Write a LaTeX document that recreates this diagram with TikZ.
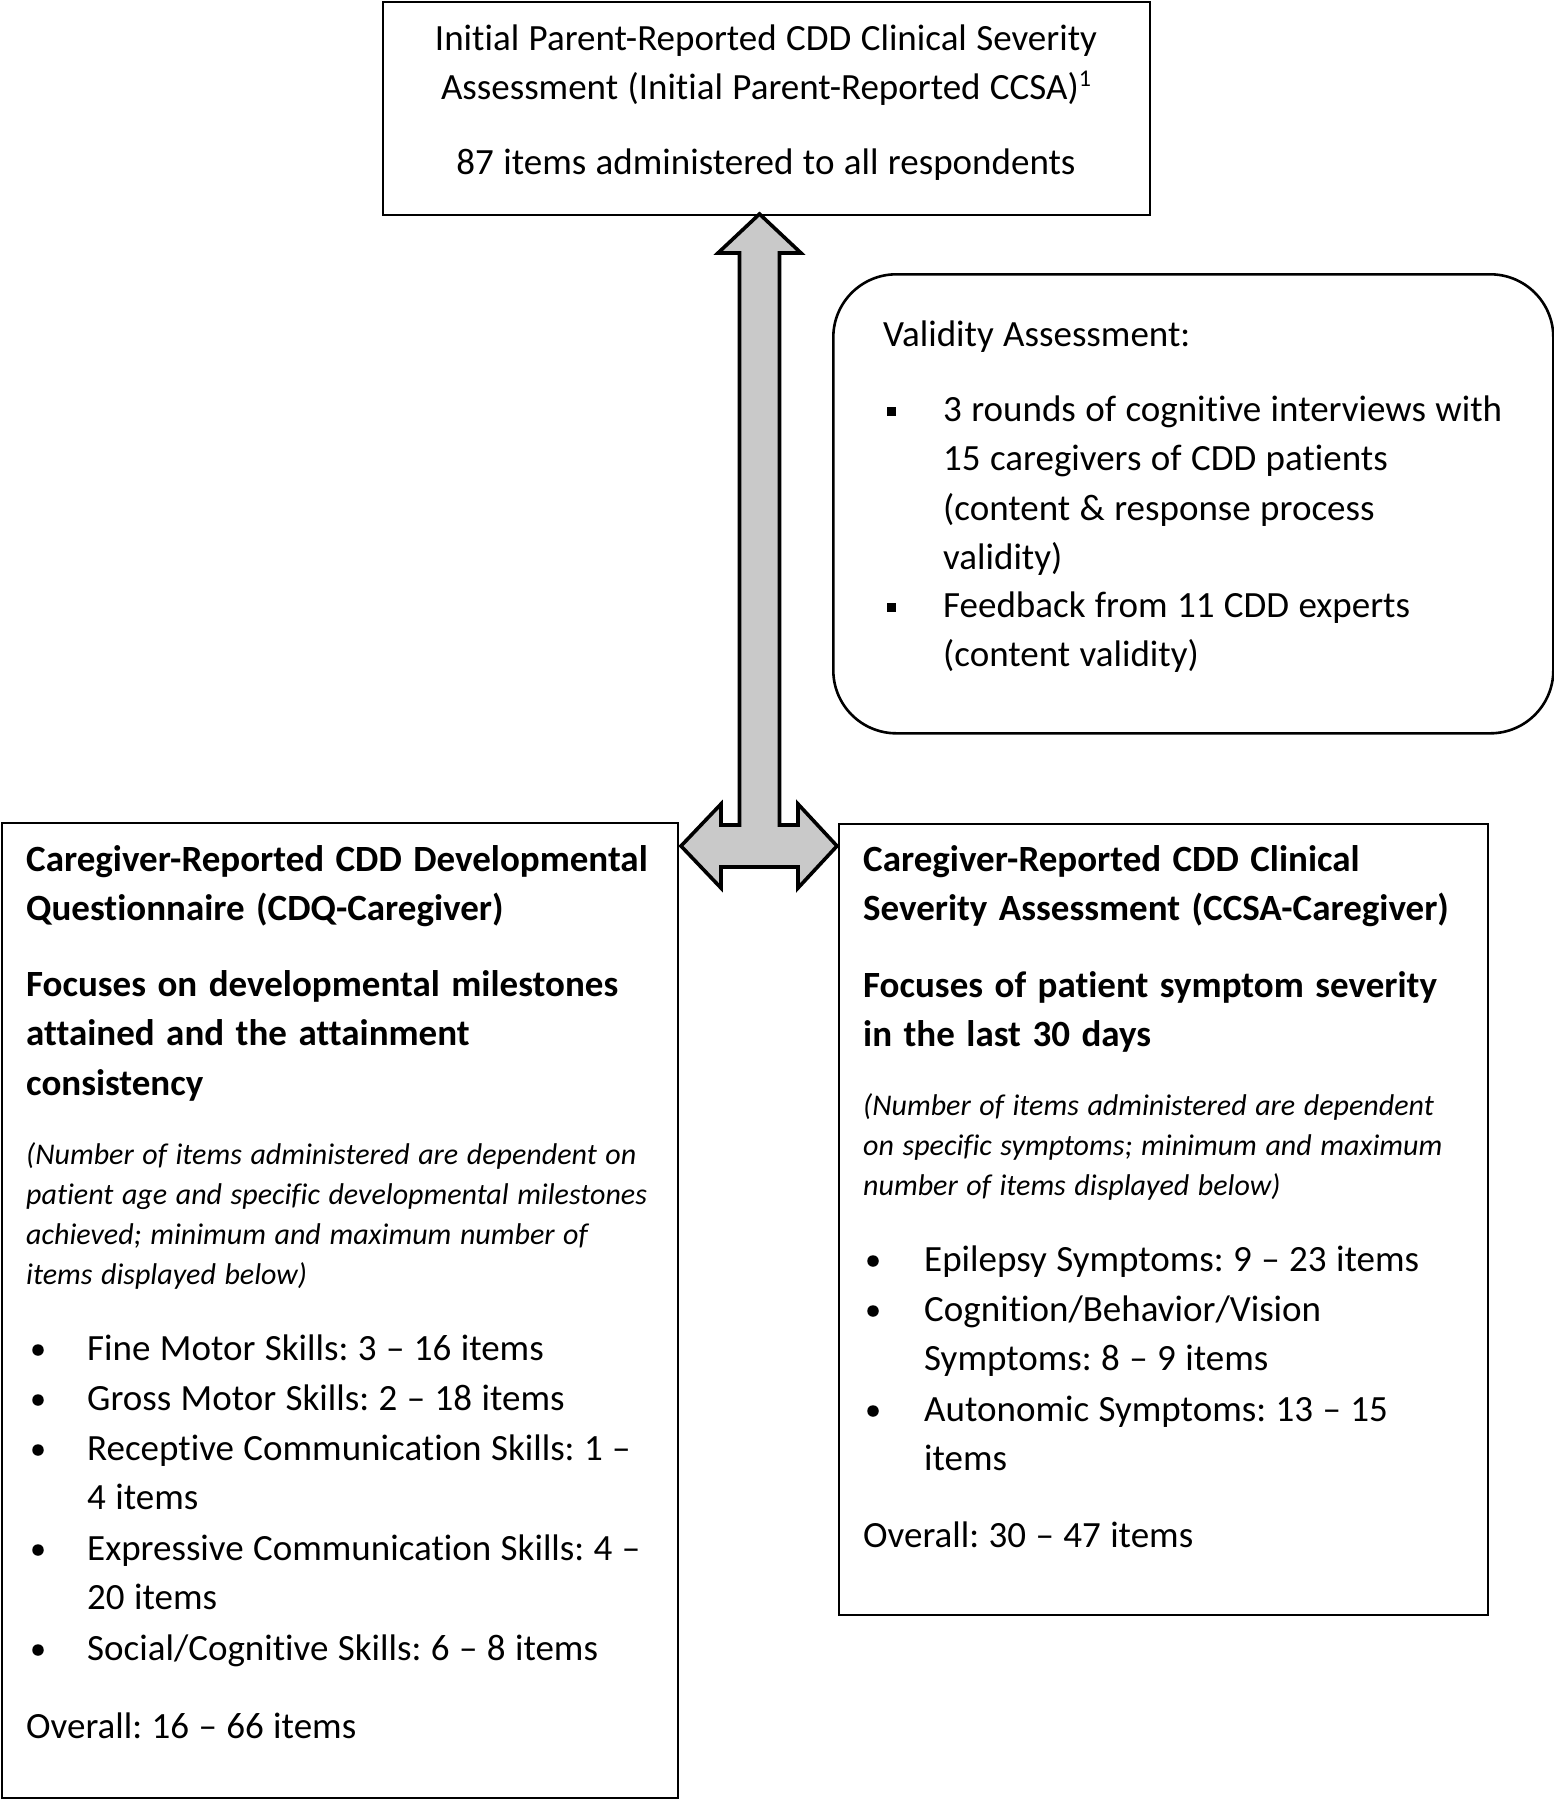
\documentclass[tikz,border=0pt]{standalone}
\usepackage{fontspec}
\setmainfont{Carlito}[Ligatures=NoCommon]
\newcommand\regf{\fontsize{37}{49.5}\selectfont\frenchspacing\spaceskip=9.4pt plus 3pt minus 1pt\relax}
\newcommand\itaf{\fontsize{30}{40.3}\selectfont\itshape\frenchspacing\spaceskip=8.6pt plus 2pt minus 1pt\relax}
\newcommand\bldf{\fontsize{37}{49.5}\selectfont\bfseries\frenchspacing\spaceskip=11.5pt plus 3pt minus 1pt\relax}
\newcommand\supone{\raisebox{13.5pt}{\fontsize{24}{24}\selectfont 1}}
\begin{document}
\begin{tikzpicture}[x=1pt,y=-1pt,
  box/.style={draw=black, line width=1.6pt, anchor=north west, inner sep=0pt},
  txt/.style={anchor=base west, inner sep=0pt, text width=660pt, align=flush left, font=\regf},
  btxt/.style={txt, font=\bldf},
  itxt/.style={txt, font=\itaf},
  ctxt/.style={anchor=base, inner sep=0pt, text width=760pt, align=flush center, font=\regf},
  dot/.style={circle, fill=black, inner sep=0pt, minimum size=11.5pt},
  sq/.style={rectangle, fill=black, inner sep=0pt, minimum size=9pt}]
\useasboundingbox (0,0) rectangle (1554,1800);
\fill[white] (0,0) rectangle (1554,1800);

% boxes
\node[box, minimum width=767pt, minimum height=213pt] (top) at (382,1) {};
\node[box, minimum width=720pt, minimum height=459pt, rounded corners=63pt, line width=2.6pt] (valid) at (832,273) {};
\node[box, minimum width=676pt, minimum height=975pt] (left) at (1,822) {};
\node[box, minimum width=649pt, minimum height=791pt] (right) at (838,823) {};

% double arrow
\coordinate (ac) at (759.5,846);
\draw[line width=3.6pt, fill=black!21, line join=miter]
  (759.5,214) -- (801,253) -- (779.5,253) -- (779.5,825) -- (798,825) -- (798,804)
  -- (837,846) -- (798,888) -- (798,867) -- (721,867) -- (721,888) -- (681,846)
  -- (721,804) -- (721,825) -- (739.5,825) -- (739.5,253) -- (718,253) -- cycle;

% top box text
\node[ctxt] (t1) at (766,50) {Initial Parent-Reported CDD Clinical Severity\\Assessment (Initial Parent-Reported CCSA)\supone};
\node[ctxt] (t2) at (766,174) {87 items administered to all respondents};

% validity box
\node[txt] (v0) at (883,346) {Validity Assessment:};
\node[sq] (vs1) at (891,411) {};
\node[txt] (v1) at (943,421) {3 rounds of cognitive interviews with\\15 caregivers of CDD patients\\(content \& response process\\validity)};
\node[sq] (vs2) at (891,607) {};
\node[txt] (v2) at (943,617) {Feedback from 11 CDD experts\\(content validity)};

% left box
\node[btxt] (l1) at (26,871) {Caregiver-Reported CDD Developmental\\Questionnaire (CDQ-Caregiver)};
\node[btxt] (l2) at (26,996) {Focuses on developmental milestones\\attained and the attainment\\consistency};
\node[itxt] (l3) at (26,1164) {(Number of items administered are dependent on\\patient age and specific developmental milestones\\achieved; minimum and maximum number of\\items displayed below)};
\node[dot] (ld1) at (38,1350) {};
\node[txt] (lb1) at (87,1360) {Fine Motor Skills: 3 – 16 items};
\node[dot] (ld2) at (38,1400) {};
\node[txt] (lb2) at (87,1410) {Gross Motor Skills: 2 – 18 items};
\node[dot] (ld3) at (38,1450) {};
\node[txt] (lb3) at (87,1460) {Receptive Communication Skills: 1 –\\4 items};
\node[dot] (ld4) at (38,1550) {};
\node[txt] (lb4) at (87,1560) {Expressive Communication Skills: 4 –\\20 items};
\node[dot] (ld5) at (38,1650) {};
\node[txt] (lb5) at (87,1660) {Social/Cognitive Skills: 6 – 8 items};
\node[txt] (l4) at (26,1738) {Overall: 16 – 66 items};

% right box
\node[btxt] (r1) at (863,871) {Caregiver-Reported CDD Clinical\\Severity Assessment (CCSA-Caregiver)};
\node[btxt] (r2) at (863,997) {Focuses of patient symptom severity\\in the last 30 days};
\node[itxt] (r3) at (863,1115) {(Number of items administered are dependent\\on specific symptoms; minimum and maximum\\number of items displayed below)};
\node[dot] (rd1) at (873,1261) {};
\node[txt] (rb1) at (924,1271) {Epilepsy Symptoms: 9 – 23 items};
\node[dot] (rd2) at (873,1311) {};
\node[txt] (rb2) at (924,1321) {Cognition/Behavior/Vision\\Symptoms: 8 – 9 items};
\node[dot] (rd3) at (873,1411) {};
\node[txt] (rb3) at (924,1421) {Autonomic Symptoms: 13 – 15\\items};
\node[txt] (r4) at (863,1547) {Overall: 30 – 47 items};
\end{tikzpicture}
\end{document}
